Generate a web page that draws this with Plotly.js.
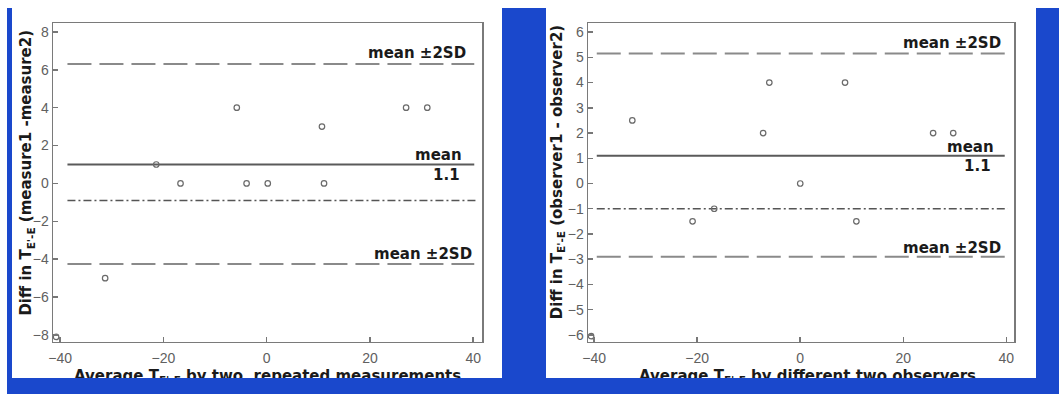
<!DOCTYPE html>
<html>
<head>
<meta charset="utf-8">
<script src="https://cdn.plot.ly/plotly-3.0.1.min.js"></script>
<style>
  html, body { margin: 0; padding: 0; background: #fff; }
  #wrap { position: relative; width: 1059px; height: 394px; overflow: hidden; }
  #chart { position: absolute; left: 0; top: 0; width: 1059px; height: 394px; }
  .blue { position: absolute; background: #1a48cc; pointer-events: none; }
</style>
</head>
<body>
<div id="wrap">
  <div id="chart"></div>
  <div class="blue" style="left:7px;top:8px;width:5px;height:386px;"></div>
  <div class="blue" style="left:502px;top:8px;width:44px;height:386px;"></div>
  <div class="blue" style="left:1036px;top:8px;width:23px;height:386px;"></div>
  <div class="blue" style="left:7px;top:378px;width:1052px;height:16px;"></div>
</div>
<script>
// ---------- data ----------
const xTickVals = [-40, -20, 0, 20, 40];
const leftYTickVals = [-8, -6, -4, -2, 0, 2, 4, 6, 8];
const rightYTickVals = [-6, -5, -4, -3, -2, -1, 0, 1, 2, 3, 4, 5, 6];

// Panel 1: repeated measurements
const leftX = [-31.3, -21.4, -16.7, -5.8, -3.9, 0.2, 10.7, 11.1, 27.0, 31.1, -40.8];
const leftY = [-5, 1, 0, 4, 0, 0, 3, 0, 4, 4, -8.1];
const leftUpper = 6.3;
const leftMean = 1.0;
const leftDashDot = -0.9;
const leftLower = -4.25;
const leftLineX = [-38.6, 40.2];

// Panel 2: two observers
const rightX = [-32.6, -20.9, -16.7, -7.2, -6.0, 0.0, 8.7, 10.9, 25.8, 29.7, -40.6];
const rightY = [2.5, -1.5, -1, 2, 4, 0, 4, -1.5, 2, 2, -6.05];
const rightUpper = 5.15;
const rightMean = 1.1;
const rightDashDot = -1.0;
const rightLower = -2.9;
const rightLineX = [-39.5, 39.7];

const meanLabel = "1.1";
const sdLabel = "mean \u00b12SD";

// ---------- styling ----------
const dashStyle = {color: '#8a8a8a', width: 2, dash: '24px,8px'};
const solidStyle = {color: '#5a5a5a', width: 2};
const dashDotStyle = {color: '#555', width: 1.5, dash: '8px,3px,2px,3px'};
const markerStyle = {symbol: 'circle-open', size: 5.5, color: '#6a6a6a', line: {width: 1.2, color: '#6a6a6a'}};

function hline(xr, v, style, xa, ya) {
  return {x: xr, y: [v, v], mode: 'lines', line: style, xaxis: xa, yaxis: ya, hoverinfo: 'skip', showlegend: false};
}

const traces = [
  hline(leftLineX, leftUpper, dashStyle, 'x', 'y'),
  hline(leftLineX, leftLower, dashStyle, 'x', 'y'),
  hline(leftLineX, leftMean, solidStyle, 'x', 'y'),
  hline([leftLineX[0], 41], leftDashDot, dashDotStyle, 'x', 'y'),
  {x: leftX, y: leftY, mode: 'markers', marker: markerStyle, xaxis: 'x', yaxis: 'y', showlegend: false},
  hline(rightLineX, rightUpper, dashStyle, 'x2', 'y2'),
  hline(rightLineX, rightLower, dashStyle, 'x2', 'y2'),
  hline(rightLineX, rightMean, solidStyle, 'x2', 'y2'),
  hline([rightLineX[0], 40.3], rightDashDot, dashDotStyle, 'x2', 'y2'),
  {x: rightX, y: rightY, mode: 'markers', marker: markerStyle, xaxis: 'x2', yaxis: 'y2', showlegend: false}
];

const tickFont = {family: 'Liberation Sans, Arial, sans-serif', size: 14, color: '#606060'};
const boldFont = {family: 'DejaVu Sans, sans-serif', size: 15, color: '#1a1a1a', weight: 'bold'};

function xax(domain, range, anchor) {
  return {domain: domain, range: range, anchor: anchor, tickvals: xTickVals, ticks: 'inside', ticklen: 5,
    tickcolor: '#777', tickwidth: 1.5, showline: true, linecolor: '#7a7a7a', linewidth: 1.5, mirror: true,
    showgrid: false, zeroline: false, tickfont: tickFont, ticklabelstandoff: 3};
}
function yax(domain, range, anchor, vals) {
  return {domain: domain, range: range, anchor: anchor, tickvals: vals, ticks: 'inside', ticklen: 5,
    tickcolor: '#777', tickwidth: 1.5, showline: true, linecolor: '#7a7a7a', linewidth: 1.5, mirror: true,
    showgrid: false, zeroline: false, tickfont: tickFont, ticklabelstandoff: 0};
}

function ann(text, x, y, xref, yref, xanchor, extra) {
  return Object.assign({text: text, x: x, y: y, xref: xref, yref: yref, xanchor: xanchor, yanchor: 'middle',
    showarrow: false, font: boldFont}, extra || {});
}

const annotations = [
  ann(sdLabel, 39.0, 6.9, 'x', 'y', 'right'),
  ann(sdLabel, 40.2, -3.74, 'x', 'y', 'right'),
  ann('mean', 38.3, 1.5, 'x', 'y', 'right'),
  ann(meanLabel, 34.8, 0.45, 'x', 'y', 'center'),
  ann(sdLabel, 39.3, 5.56, 'x2', 'y2', 'right'),
  ann(sdLabel, 39.3, -2.56, 'x2', 'y2', 'right'),
  ann('mean', 38.0, 1.44, 'x2', 'y2', 'right'),
  ann(meanLabel, 34.5, 0.68, 'x2', 'y2', 'center'),
  ann('Diff in T<sub>E\'-E</sub> (measure1 -measure2)', 0.0255, 0.562, 'paper', 'paper', 'center', {textangle: -90}),
  ann('Diff in T<sub>E\'-E</sub> (observer1 - observer2)', 0.526, 0.563, 'paper', 'paper', 'center', {textangle: -90}),
  ann('Average T<sub>E\'-E</sub> by two  repeated measurements', 267 / 1059, 0.044, 'paper', 'paper', 'center'),
  ann('Average T<sub>E\'-E</sub> by different two observers', 807 / 1059, 0.044, 'paper', 'paper', 'center')
];

const layout = {
  width: 1059, height: 394,
  margin: {l: 0, r: 0, t: 0, b: 0},
  paper_bgcolor: '#ffffff', plot_bgcolor: '#ffffff',
  showlegend: false,
  xaxis: xax([53 / 1059, 482 / 1059], [-41.4, 41.7], 'y'),
  yaxis: yax([0.132, 0.9416], [-8.37, 8.47], 'x', leftYTickVals),
  xaxis2: xax([588 / 1059, 1014 / 1059], [-41.2, 41.5], 'y2'),
  yaxis2: yax([0.132, 0.9416], [-6.28, 6.36], 'x2', rightYTickVals),
  annotations: annotations
};

Plotly.newPlot('chart', traces, layout, {displayModeBar: false, staticPlot: true});
</script>
</body>
</html>
